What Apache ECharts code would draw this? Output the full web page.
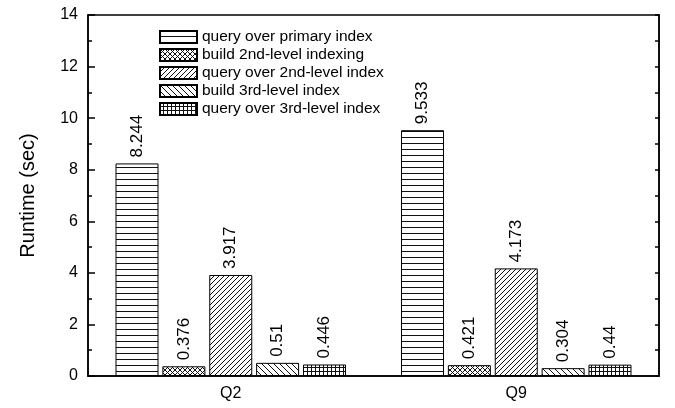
<!DOCTYPE html>
<html>
<head>
<meta charset="utf-8">
<script src="https://cdn.jsdelivr.net/npm/echarts@6/dist/echarts.min.js"></script>
<style>
  html, body { margin: 0; padding: 0; background: #fff; }
  #chart { width: 675px; height: 408px; }
</style>
</head>
<body>
<div id="chart"></div>
<script>
const categories = ['Q2', 'Q9']
const seriesNames = [
  'query over primary index',
  'build 2nd-level indexing',
  'query over 2nd-level index',
  'build 3rd-level index',
  'query over 3rd-level index'
]
const primaryQuery = [8.244, 9.533]
const build2nd = [0.376, 0.421]
const query2nd = [3.917, 4.173]
const build3rd = [0.51, 0.304]
const query3rd = [0.446, 0.44]
const yTicks = [0, 2, 4, 6, 8, 10, 12, 14]

const fontFamily = 'Liberation Sans, Arial, sans-serif'

// hatch fills drawn on small canvases
function makePattern(kind) {
  const sizes = { hline: 6, cross: 5, fdiag: 5, bdiag: 6, grid: 4 }
  const s = sizes[kind]
  const c = document.createElement('canvas')
  c.width = s
  c.height = s
  const ctx = c.getContext('2d')
  ctx.fillStyle = '#fff'
  ctx.fillRect(0, 0, s, s)
  ctx.strokeStyle = '#111'
  ctx.lineWidth = 1
  ctx.beginPath()
  if (kind === 'hline') {
    ctx.moveTo(0, s - 0.5); ctx.lineTo(s, s - 0.5)
  } else if (kind === 'grid') {
    ctx.moveTo(0, s - 0.5); ctx.lineTo(s, s - 0.5)
    ctx.moveTo(s - 0.5, 0); ctx.lineTo(s - 0.5, s)
  } else {
    if (kind === 'fdiag' || kind === 'cross') {
      ctx.moveTo(-1, s + 1); ctx.lineTo(s + 1, -1)
      ctx.moveTo(-1, 1); ctx.lineTo(1, -1)
      ctx.moveTo(s - 1, s + 1); ctx.lineTo(s + 1, s - 1)
    }
    if (kind === 'bdiag' || kind === 'cross') {
      ctx.moveTo(-1, -1); ctx.lineTo(s + 1, s + 1)
      ctx.moveTo(s - 1, -1); ctx.lineTo(s + 1, 1)
      ctx.moveTo(-1, s - 1); ctx.lineTo(1, s + 1)
    }
  }
  ctx.stroke()
  return { image: c, repeat: 'repeat' }
}

const fills = ['hline', 'cross', 'fdiag', 'bdiag', 'grid'].map(makePattern)
const values = [primaryQuery, build2nd, query2nd, build3rd, query3rd]

function barSeries(i) {
  return {
    name: seriesNames[i],
    type: 'bar',
    data: values[i],
    barWidth: 43,
    barGap: '9%',
    itemStyle: {
      color: fills[i],
      borderColor: '#000',
      borderWidth: 1
    },
    label: {
      show: true,
      position: 'top',
      rotate: 90,
      align: 'left',
      verticalAlign: 'middle',
      distance: 6,
      color: '#000',
      fontSize: 17,
      fontFamily: fontFamily,
      formatter: '{c}'
    }
  }
}

const chart = echarts.init(document.getElementById('chart'))
chart.setOption({
  animation: false,
  backgroundColor: '#fff',
  grid: {
    left: 88,
    right: 16,
    top: 15,
    bottom: 32,
    show: true,
    borderColor: '#000',
    borderWidth: 1.5
  },
  legend: {
    orient: 'vertical',
    left: 154,
    top: 24,
    icon: 'rect',
    itemWidth: 37,
    itemHeight: 12,
    itemGap: 2,
    textStyle: { fontSize: 15.5, color: '#000', fontFamily: fontFamily },
    data: seriesNames
  },
  xAxis: {
    type: 'category',
    data: categories,
    axisLine: { lineStyle: { color: '#000', width: 1.5 } },
    axisTick: { show: false },
    axisLabel: { color: '#000', fontSize: 16, fontFamily: fontFamily, margin: 10 }
  },
  yAxis: [{
    type: 'value',
    min: yTicks[0],
    max: yTicks[yTicks.length - 1],
    interval: 2,
    name: 'Runtime (sec)',
    nameLocation: 'middle',
    nameGap: 50,
    nameTextStyle: { fontSize: 20, color: '#000', fontFamily: fontFamily },
    axisLine: { show: true, lineStyle: { color: '#000', width: 1.5 } },
    axisTick: { show: true, inside: true, length: 7, lineStyle: { color: '#000', width: 1.5 } },
    minorTick: { show: true, splitNumber: 2, length: 4, lineStyle: { color: '#000', width: 1.5 } },
    axisLabel: { color: '#000', fontSize: 16, fontFamily: fontFamily, margin: 10 },
    splitLine: { show: false }
  }, {
    type: 'value',
    position: 'right',
    min: yTicks[0],
    max: yTicks[yTicks.length - 1],
    interval: 2,
    axisLine: { show: true, lineStyle: { color: '#000', width: 1.5 } },
    axisTick: { show: true, inside: true, length: 4, lineStyle: { color: '#000', width: 1.5 } },
    minorTick: { show: true, splitNumber: 2, length: 4, lineStyle: { color: '#000', width: 1.5 } },
    axisLabel: { show: false },
    splitLine: { show: false }
  }],
  series: [0, 1, 2, 3, 4].map(barSeries)
})
</script>
</body>
</html>
